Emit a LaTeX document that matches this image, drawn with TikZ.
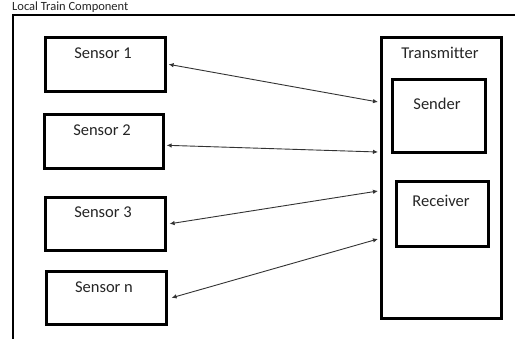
\documentclass[tikz,border=0pt]{standalone}
\usepackage{fontspec}
\setmainfont{Carlito}[Ligatures=NoCommon]
\usetikzlibrary{arrows.meta}
\begin{document}
\begin{tikzpicture}[x=1pt,y=-1pt,
  box/.style={draw=black,line width=2.6pt,minimum width=#1,inner sep=0pt,anchor=north west},
  lbl/.style={font=\fontsize{16.5}{18}\selectfont,text=black!85,inner sep=0pt,anchor=center},
  link/.style={line width=0.9pt,black!80,{Latex[length=5pt,width=4.5pt]}-{Latex[length=5pt,width=4.5pt]}}]
\useasboundingbox (0,0) rectangle (515,338);
\clip (0,0) rectangle (515,338);
\fill[white] (0,0) rectangle (515,338);

% enclosing component frame and its heading
\node[lbl,font=\fontsize{12.5}{14}\selectfont,anchor=base west] (title) at (12,10) {Local Train Component};
\draw[line width=2.9pt] (13,345) -- (13,15) -- (525,15);

% sensors
\node[box=120pt,minimum height=54pt] (s1) at (44,36) {};
\node[box=119pt,minimum height=54pt] (s2) at (43,113) {};
\node[box=120pt,minimum height=53pt] (s3) at (44,196) {};
\node[box=120pt,minimum height=53pt] (sn) at (45,270) {};
\node[lbl] (t1) at (103,53) {Sensor 1};
\node[lbl] (t2) at (102,130) {Sensor 2};
\node[lbl] (t3) at (103,212) {Sensor 3};
\node[lbl] (tn) at (104,287) {Sensor n};

% transmitter with its sender and receiver
\node[box=120pt,minimum height=281pt,line width=2.9pt] (tx) at (380,36) {};
\node[box=93pt,minimum height=73pt] (snd) at (391,78) {};
\node[box=92pt,minimum height=65pt] (rcv) at (395,180) {};
\node[lbl] (ttx) at (440,53) {Transmitter};
\node[lbl] (tsnd) at (437,104) {Sender};
\node[lbl] (trcv) at (441,201) {Receiver};

% two-way links between each sensor and the transmitter
\draw[link] ([xshift=2pt]s1.east) -- ([xshift=-2pt,yshift=-66pt]tx.north west);
\draw[link] ([xshift=2pt,yshift=-4pt]s2.east) -- ([xshift=-2pt,yshift=-116pt]tx.north west);
\draw[link] ([xshift=3pt]s3.east) -- ([xshift=-2pt,yshift=-155pt]tx.north west);
\draw[link] ([xshift=4pt]sn.east) -- ([xshift=-2pt,yshift=-203pt]tx.north west);
\end{tikzpicture}
\end{document}
